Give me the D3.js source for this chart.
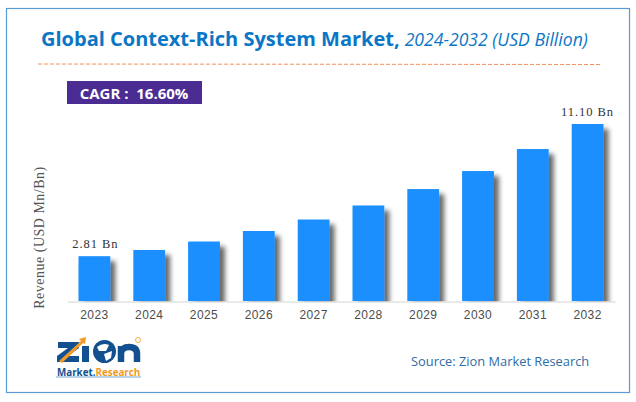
<!DOCTYPE html>
<html lang="en">
<head>
<meta charset="UTF-8">
<title>Global Context-Rich System Market</title>
<script src="https://cdnjs.cloudflare.com/ajax/libs/d3/7.8.5/d3.min.js"></script>
<style>
  html, body { margin: 0; padding: 0; background: #fff; }
  svg { display: block; }
</style>
</head>
<body>
<svg width="636" height="402"></svg>
<script>
// values
var years = ["2023", "2024", "2025", "2026", "2027", "2028", "2029", "2030", "2031", "2032"];
var revenue = [2.81, 3.2, 3.73, 4.39, 5.11, 5.99, 7.02, 8.15, 9.53, 11.1];
var valueLabels = ["2.81 Bn", "", "", "", "", "", "", "", "", "11.10 Bn"];

var svg = d3.select("svg");

// outer frame
svg.append("rect").attr("x", 6.5).attr("y", 8.5).attr("width", 623).attr("height", 384)
    .attr("fill", "#fff").attr("stroke", "#5b9bd5").attr("stroke-width", 1.2);

// title
var title = svg.append("text").attr("x", 41).attr("y", 46)
    .attr("font-family", "'Open Sans'").attr("fill", "#0b76c5");
title.append("tspan").attr("font-size", 20).attr("font-weight", 700).text("Global Context-Rich System Market,");
title.append("tspan").attr("font-size", 17.6).attr("font-style", "italic").attr("dx", 5).text("2024-2032 (USD Billion)");

// dashed rule under the title
svg.append("line").attr("x1", 38).attr("x2", 602).attr("y1", 64).attr("y2", 64.5)
    .attr("stroke", "#f4905a").attr("stroke-width", 1).attr("stroke-dasharray", "4 2");

// CAGR box
svg.append("rect").attr("x", 67).attr("y", 81).attr("width", 135).attr("height", 23).attr("fill", "#4b2c92");
svg.append("text").attr("x", 134).attr("y", 98.5).attr("text-anchor", "middle")
    .attr("font-family", "'Open Sans'").attr("font-weight", 700).attr("font-size", 15).attr("fill", "#fff")
    .attr("xml:space", "preserve").text("CAGR :  16.60%");

// shadow to the right of each bar
var defs = svg.append("defs");
var shadow = defs.append("filter").attr("id", "barShadow")
    .attr("x", "-20%").attr("y", "-10%").attr("width", "160%").attr("height", "120%");
shadow.append("feGaussianBlur").attr("in", "SourceAlpha").attr("stdDeviation", 2.5).attr("result", "b");
shadow.append("feOffset").attr("in", "b").attr("dx", 5).attr("dy", 5).attr("result", "o");
shadow.append("feComponentTransfer").attr("in", "o").attr("result", "s")
    .append("feFuncA").attr("type", "linear").attr("slope", 0.6);
var merge = shadow.append("feMerge");
merge.append("feMergeNode").attr("in", "s");
merge.append("feMergeNode").attr("in", "SourceGraphic");

// scales
var xScale = d3.scaleBand().domain(years).range([67, 615]).paddingInner(0.42).paddingOuter(0.21);
var yScale = d3.scaleLinear().domain([0, 11.1]).range([301, 124]);

// bars
svg.append("g").selectAll("rect")
    .data(revenue)
    .enter()
    .append("rect")
    .attr("x", function (d, i) { return xScale(years[i]); })
    .attr("y", function (d) { return yScale(d); })
    .attr("width", xScale.bandwidth())
    .attr("height", function (d) { return yScale(0) - yScale(d); })
    .attr("fill", "#1b8fff")
    .attr("filter", "url(#barShadow)");

// cover the shadow that falls below the baseline
svg.append("rect").attr("x", 60).attr("y", 301.5).attr("width", 565).attr("height", 12).attr("fill", "#fff");

// x axis
var xAxis = d3.axisBottom(xScale).tickSize(0).tickPadding(9);
var axisG = svg.append("g").attr("transform", "translate(0,301.5)").call(xAxis);
axisG.select(".domain").attr("stroke", "#d4d4d4").attr("stroke-width", 1);
axisG.selectAll("text")
    .attr("font-family", "'Liberation Sans'").attr("font-size", 12).attr("fill", "#4d4d4d")
    .attr("letter-spacing", 0.4);

// value labels
svg.append("g").selectAll("text")
    .data(revenue)
    .enter()
    .append("text")
    .attr("x", function (d, i) { return xScale(years[i]) + xScale.bandwidth() / 2 + (i === 0 ? 1 : 0); })
    .attr("y", function (d) { return yScale(d) - 8; })
    .attr("text-anchor", "middle")
    .attr("font-family", "'Liberation Serif'").attr("font-size", 12.5).attr("fill", "#333")
    .attr("letter-spacing", 0.95)
    .text(function (d, i) { return valueLabels[i]; });

// y axis title
svg.append("text").attr("transform", "translate(44,237.5) rotate(-90)").attr("text-anchor", "middle")
    .attr("font-family", "'Liberation Serif'").attr("font-size", 14).attr("fill", "#555")
    .attr("letter-spacing", 0.5)
    .text("Revenue (USD Mn/Bn)");

// source
svg.append("text").attr("x", 411).attr("y", 366)
    .attr("font-family", "'Open Sans'").attr("font-size", 12.85).attr("fill", "#2e6da4")
    .text("Source: Zion Market Research");

// logo
var logo = svg.append("g");
var navy = "#13508f", orange = "#f39a26";
logo.append("path").attr("d", "M58 342 H79 V348 L68 356 H79 V362 H57 V356 L68 348 H58 Z").attr("fill", navy);
logo.append("path").attr("d", "M59 361 L81 341 L79 339 L86 337 L85 344 L83 343 L62 363 Z").attr("fill", orange);
logo.append("rect").attr("x", 82).attr("y", 346).attr("width", 7).attr("height", 16).attr("fill", navy);
logo.append("circle").attr("cx", 104.5).attr("cy", 351.5).attr("r", 11.5).attr("fill", navy);
logo.append("path").attr("d", "M97 347 Q103 342 109 345 L106 351 L99 351 Z M104 354 L112 351 L111 358 L106 361 Z")
    .attr("fill", "#fff");
logo.append("path").attr("d", "M121 362 V346 M121 353 Q122 347 129 347 Q137 347 137 354 V362")
    .attr("fill", "none").attr("stroke", navy).attr("stroke-width", 6.5);
logo.append("circle").attr("cx", 138).attr("cy", 340).attr("r", 2.5)
    .attr("fill", "none").attr("stroke", orange).attr("stroke-width", 0.8);
var logoText = logo.append("text").attr("x", 57).attr("y", 376)
    .attr("font-family", "'Open Sans'").attr("font-weight", 700).attr("font-size", 9.8);
logoText.append("tspan").attr("fill", navy).text("Market.");
logoText.append("tspan").attr("fill", orange).text("Research");
logo.append("line").attr("x1", 56).attr("x2", 141).attr("y1", 377).attr("y2", 377)
    .attr("stroke", "#4f8fc8").attr("stroke-width", 0.8);
</script>
</body>
</html>
